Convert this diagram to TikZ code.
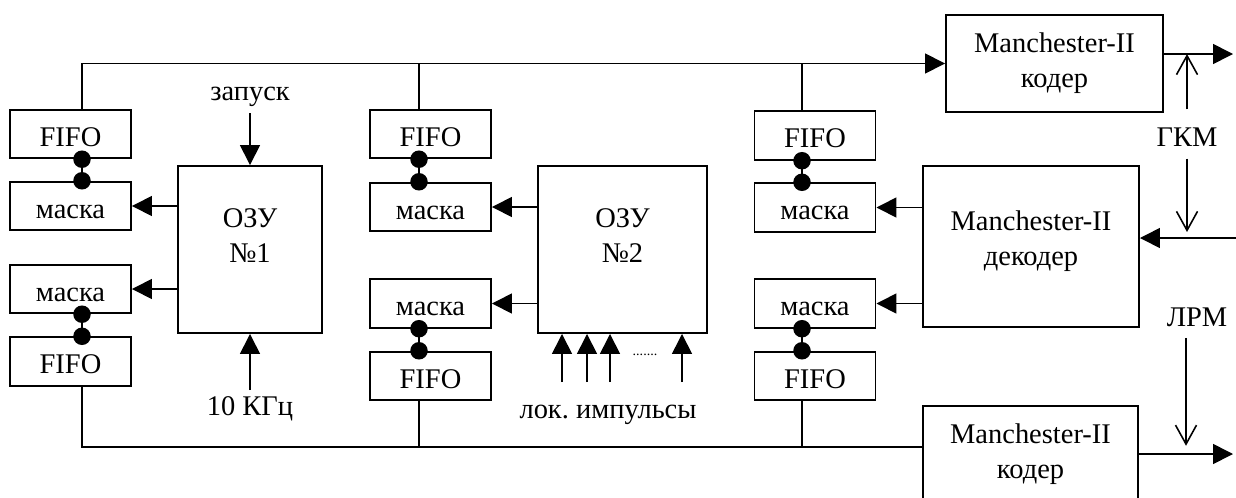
\documentclass[tikz,border=0pt]{standalone}
\usepackage{fontspec}
\setmainfont{Liberation Serif}
\usetikzlibrary{arrows.meta}
\frenchspacing

\begin{document}
\begin{tikzpicture}[x=0.2mm,y=-0.2mm,
  font=\fontsize{16.2}{19.9}\selectfont,
  line width=0.9pt,
  box/.style={draw,line width=1.1pt,inner sep=0pt},
  cell/.style={box,minimum width=24.2mm,minimum height=9.7mm,text height=14pt,text depth=0pt},
  arr/.style={-{Triangle[length=4mm,width=4mm]}},
  barb/.style={-{Straight Barb[length=3.8mm,width=4.2mm]}}]
  \useasboundingbox (0,0) rectangle (1236,497);
  \clip (0,0) rectangle (1236,497);
  % ОЗУ №1
  \node[cell] (fifo1) at (70.5,134) {FIFO};
  \node[cell] (mask1) at (70.5,206) {маска};
  \node[cell] (mask2) at (70.5,289) {маска};
  \node[cell] (fifo2) at (70.5,361.5) {FIFO};
  \node[box,minimum width=28.8mm,minimum height=33.4mm] (ozu1) at (250,249.5) {};
  \node[align=center] (ozu1txt) at (250,235.5) {ОЗУ\\№1};
  \node (zap) at (250,97) {запуск};
  \node (khz) at (250,409) {10 КГц};
  \draw[arr] (zap) -- (ozu1);
  \draw[arr] (khz) -- (ozu1);
  % ОЗУ №2
  \node[cell] (fifo3) at (430.5,134) {FIFO};
  \node[cell] (mask3) at (430.5,207) {маска};
  \node[cell] (mask4) at (430.5,303.5) {маска};
  \node[cell] (fifo4) at (430.5,376) {FIFO};
  \node[box,minimum width=33.8mm,minimum height=33.4mm] (ozu2) at (622.5,249.5) {};
  \node[align=center] (ozu2txt) at (622.5,235.5) {ОЗУ\\№2};
  \node (lok) at (608,415) {лок. импульсы};
  \node[font=\fontsize{8}{9}\selectfont] (gap) at (645,355) {.......};
  \foreach \x in {562,587,610,682}
    \draw[arr] (\x,382) -- (\x,0 |- ozu2.south);
  % Manchester-II
  \node[cell] (fifo5) at (815,135.5) {FIFO};
  \node[cell] (mask5) at (815,207.5) {маска};
  \node[cell] (mask6) at (815,303.5) {маска};
  \node[cell] (fifo6) at (815,376) {FIFO};
  \node[box,minimum width=43.2mm,minimum height=32.2mm] (dec) at (1031,246.5) {};
  \node[align=center] (dectxt) at (1031,241) {Manchester-II\\декодер};
  \node[box,align=center,minimum width=43.4mm,minimum height=19.4mm] (cod1) at (1054.5,63.5) {Manchester-II\\кодер};
  \node[box,align=center,minimum width=43mm,minimum height=19.4mm] (cod2) at (1030.5,454.5) {Manchester-II\\кодер};
  \node[inner sep=0pt] (gkm) at (1187,137) {ГКМ};
  \node[inner sep=0pt] (lrm) at (1197,317) {ЛРМ};
  \coordinate (gkmout) at (1233,54);
  \coordinate (gkmin) at (1236,238);
  \coordinate (lrmout) at (1233,454);
  % связи
  \foreach \a/\b in {ozu1/mask1,ozu1/mask2,ozu2/mask3,ozu2/mask4,dec/mask5,dec/mask6}
    \draw[arr] (\a.west |- \b) -- (\b.east);
  \foreach \a/\b/\x in {fifo1/mask1/82,mask2/fifo2/82,fifo3/mask3/419,mask4/fifo4/419,fifo5/mask5/802,mask6/fifo6/802}{
    \draw (\a.south -| \x,0) -- (\b.north -| \x,0);
    \fill (\a.south -| \x,0) circle (1.75mm);
    \fill (\b.north -| \x,0) circle (1.75mm);
  }
  \draw[arr] (fifo1.north -| 82,0) |- (cod1.west);
  \draw (fifo3.north -| 419,0) -- (419,0 |- cod1.west);
  \draw (fifo5.north -| 802,0) -- (802,0 |- cod1.west);
  \draw (fifo2.south -| 82,0) |- (cod2.west |- 0,447);
  \draw (fifo4.south -| 419,0) -- (419,447);
  \draw (fifo6.south -| 802,0) -- (802,447);
  \draw[arr] (cod1.east |- gkmout) -- (gkmout);
  \draw[arr] (gkmin) -- (gkmin -| dec.east);
  \draw[arr] (cod2.east |- lrmout) -- (lrmout);
  \draw[barb] ([yshift=3.5mm]gkm.north) -- (gkm |- gkmout);
  \draw[barb,shorten >=1.2mm] ([yshift=-2.3mm]gkm.south) -- (gkm |- gkmin);
  \draw[barb,shorten >=1.8mm] ([xshift=-2.2mm,yshift=-2.1mm]lrm.south) -- ++(0,117);
\end{tikzpicture}
\end{document}
